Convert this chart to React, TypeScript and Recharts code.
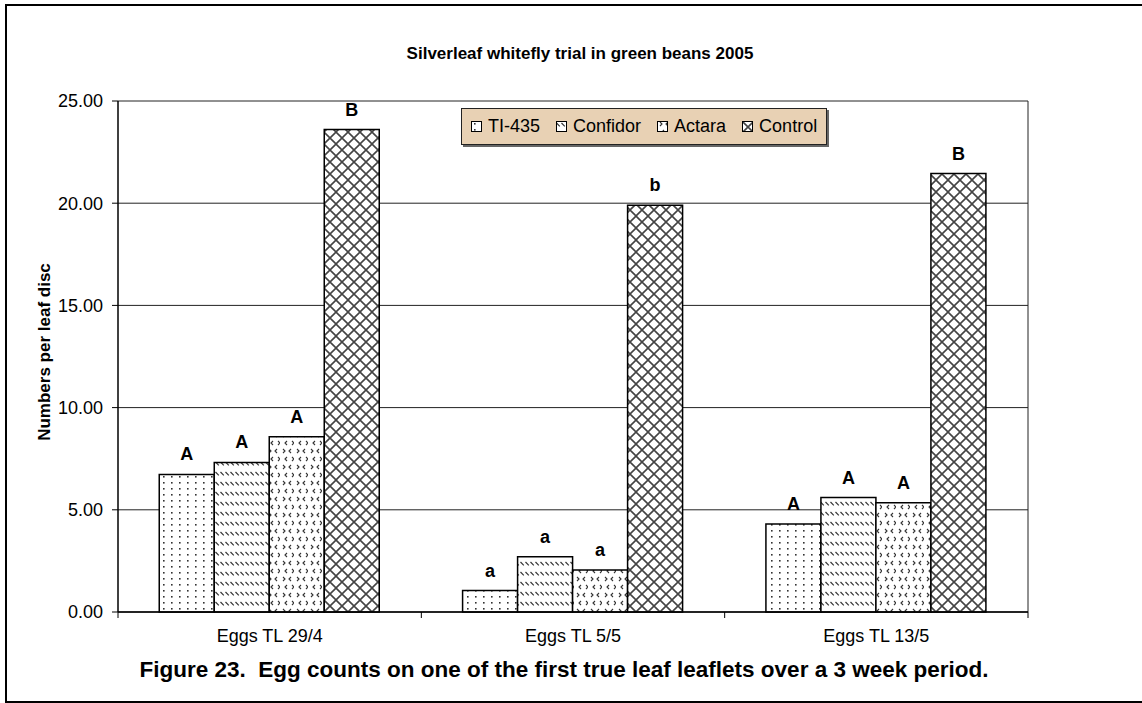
import React from 'react'
import { BarChart, Bar, XAxis, YAxis, CartesianGrid, Legend, LabelList } from 'recharts'

// chart data
const categories = ['Eggs TL 29/4', 'Eggs TL 5/5', 'Eggs TL 13/5']
const ti435 = [6.73, 1.05, 4.3]
const confidor = [7.32, 2.7, 5.6]
const actara = [8.57, 2.05, 5.35]
const control = [23.6, 19.9, 21.45]
const ti435Letters = ['A', 'a', 'A']
const confidorLetters = ['A', 'a', 'A']
const actaraLetters = ['A', 'a', 'A']
const controlLetters = ['B', 'b', 'B']
const yTicks = [0, 5, 10, 15, 20, 25]

const series = [
  { key: 'ti', label: 'tiL', name: 'TI-435', fill: 'url(#pTi)' },
  { key: 'conf', label: 'confL', name: 'Confidor', fill: 'url(#pConf)' },
  { key: 'act', label: 'actL', name: 'Actara', fill: 'url(#pAct)' },
  { key: 'ctrl', label: 'ctrlL', name: 'Control', fill: 'url(#pCtrl)' },
]

const data = categories.map((name, i) => ({
  name,
  ti: ti435[i],
  conf: confidor[i],
  act: actara[i],
  ctrl: control[i],
  tiL: ti435Letters[i],
  confL: confidorLetters[i],
  actL: actaraLetters[i],
  ctrlL: controlLetters[i],
}))

const W = 1142
const H = 703
const PLOT_LEFT = 118
const PLOT_RIGHT = 1028
const PLOT_TOP = 101
const PLOT_BOTTOM = 612
const PLOT_W = PLOT_RIGHT - PLOT_LEFT
const FONT = '"Liberation Sans", Arial, sans-serif'

function CategoryTick(props: any) {
  const { x, payload, index } = props
  const half = PLOT_W / categories.length / 2
  return (
    <g>
      <line x1={x - half} x2={x - half} y1={PLOT_BOTTOM} y2={PLOT_BOTTOM + 6} stroke="#000" />
      {index === categories.length - 1 && (
        <line x1={x + half} x2={x + half} y1={PLOT_BOTTOM} y2={PLOT_BOTTOM + 6} stroke="#000" />
      )}
      <text x={x} y={PLOT_BOTTOM + 30} textAnchor="middle" fontSize={18} fill="#000" fontFamily={FONT}>
        {payload.value}
      </text>
    </g>
  )
}

function LegendBox() {
  return (
    <div
      style={{
        background: '#E8D1B4',
        border: '1px solid #222',
        boxShadow: '2px 2px 0 #666',
        height: 37,
        boxSizing: 'border-box',
        display: 'flex',
        alignItems: 'center',
        paddingLeft: 9,
        gap: 16,
        fontFamily: FONT,
        fontSize: 18,
        color: '#000',
      }}
    >
      {series.map((s) => (
        <div key={s.key} style={{ display: 'flex', alignItems: 'center' }}>
          <svg width={11} height={11} style={{ marginRight: 6 }}>
            <rect x={0.5} y={0.5} width={10} height={10} fill={s.fill} stroke="#000" strokeWidth={1} />
          </svg>
          <span>{s.name}</span>
        </div>
      ))}
    </div>
  )
}

export default function App() {
  return (
    <div style={{ position: 'absolute', left: 0, top: 0, width: W, height: H, overflow: 'hidden', background: '#fff', fontFamily: FONT }}>
      <div
        style={{
          position: 'absolute',
          left: 5,
          top: 4,
          width: W,
          height: H - 4,
          border: '2px solid #000',
          boxSizing: 'border-box',
        }}
      />
      <div style={{ position: 'absolute', left: 0, width: 1160, top: 44, textAlign: 'center', fontWeight: 'bold', fontSize: 17 }}>
        Silverleaf whitefly trial in green beans 2005
      </div>
      <div
        style={{
          position: 'absolute',
          left: 45,
          top: 352,
          transform: 'translate(-50%, -50%) rotate(-90deg)',
          whiteSpace: 'nowrap',
          fontWeight: 'bold',
          fontSize: 17,
        }}
      >
        Numbers per leaf disc
      </div>
      <div style={{ position: 'absolute', left: 0, width: 1128, top: 657, textAlign: 'center', fontWeight: 'bold', fontSize: 22.5 }}>
        Figure 23.&nbsp; Egg counts on one of the first true leaf leaflets over a 3 week period.
      </div>
      <BarChart
        width={W}
        height={H}
        data={data}
        margin={{ top: PLOT_TOP, right: W - PLOT_RIGHT, bottom: H - PLOT_BOTTOM - 30, left: PLOT_LEFT - 60 }}
        barCategoryGap="13.6%"
        barGap={0}
        style={{ position: 'absolute', left: 0, top: 0 }}
      >
        <defs>
          <pattern id="pTi" width="8" height="6" patternUnits="userSpaceOnUse">
            <rect width="8" height="6" fill="#fff" />
            <rect x="3" y="2" width="1.6" height="1.6" fill="#333" />
          </pattern>
          <pattern id="pConf" width="5" height="10" patternUnits="userSpaceOnUse">
            <rect width="5" height="10" fill="#fff" />
            <line x1="0.5" y1="2" x2="3.8" y2="5.3" stroke="#333" strokeWidth="1.2" />
          </pattern>
          <pattern id="pAct" width="14" height="16" patternUnits="userSpaceOnUse">
            <rect width="14" height="16" fill="#fff" />
            <path d="M3 1 L5 3 L3 5" stroke="#333" strokeWidth="1.1" fill="none" />
            <path d="M11 1 L9 3 L11 5" stroke="#333" strokeWidth="1.1" fill="none" />
            <path d="M7 9 L5 11 L7 13" stroke="#333" strokeWidth="1.1" fill="none" />
            <path d="M12 9 L14 11 L12 13" stroke="#333" strokeWidth="1.1" fill="none" />
          </pattern>
          <pattern id="pCtrl" width="12" height="12" patternUnits="userSpaceOnUse">
            <rect width="12" height="12" fill="#fff" />
            <path d="M0 0 L12 12 M12 0 L0 12" stroke="#444" strokeWidth="1.6" />
          </pattern>
        </defs>
        <CartesianGrid stroke="#222" verticalPoints={[PLOT_RIGHT]} />
        <XAxis
          dataKey="name"
          height={30}
          axisLine={{ stroke: '#000', strokeWidth: 1.5 }}
          tickLine={false}
          tick={<CategoryTick />}
          interval={0}
        />
        <YAxis
          domain={[0, 25]}
          ticks={yTicks}
          width={60}
          tickFormatter={(v: number) => v.toFixed(2)}
          tick={{ fontSize: 18, fill: '#000', fontFamily: FONT }}
          tickSize={6}
          tickMargin={9}
          axisLine={{ stroke: '#000', strokeWidth: 1.5 }}
          tickLine={{ stroke: '#000' }}
        />
        <Legend
          content={<LegendBox />}
          layout="horizontal"
          verticalAlign="middle"
          align="center"
          wrapperStyle={{ position: 'absolute', left: 461, top: 108, width: 366, height: 37 }}
        />
        {series.map((s) => (
          <Bar key={s.key} dataKey={s.key} name={s.name} fill={s.fill} stroke="#000" strokeWidth={1.5} isAnimationActive={false}>
            <LabelList dataKey={s.label} position="top" offset={14} fill="#000" fontSize={18} fontWeight="bold" fontFamily={FONT} />
          </Bar>
        ))}
      </BarChart>
    </div>
  )
}
